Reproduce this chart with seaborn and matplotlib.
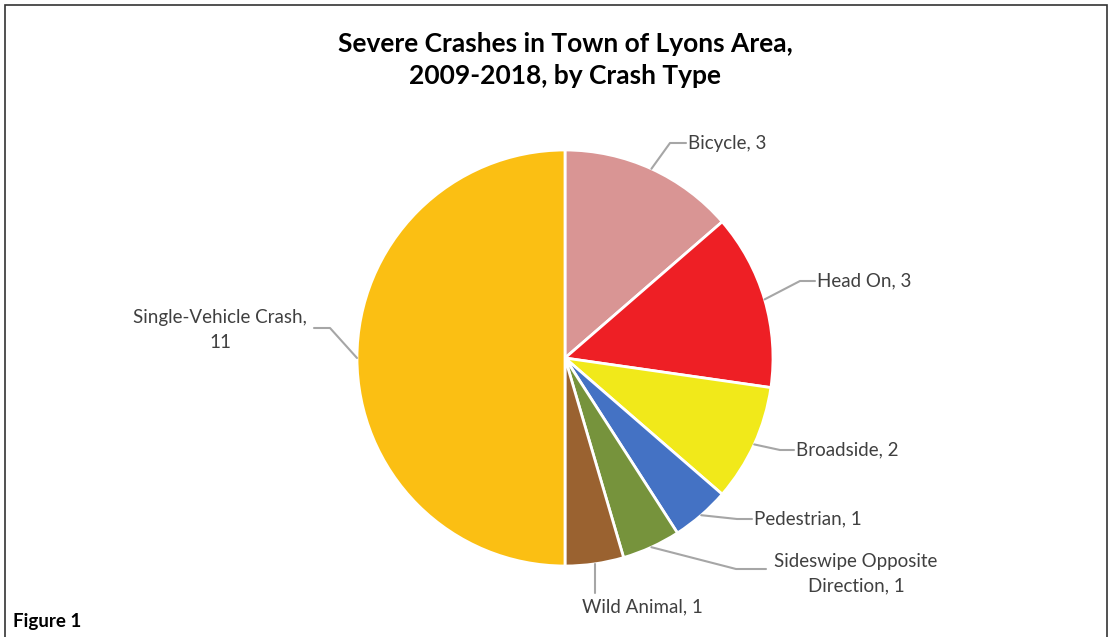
import matplotlib
matplotlib.use("Agg")
import matplotlib.pyplot as plt
import seaborn as sns
import numpy as np

crash_types = ["Bicycle", "Head On", "Broadside", "Pedestrian",
               "Sideswipe Opposite\nDirection", "Wild Animal", "Single-Vehicle Crash,\n"]
crash_counts = [3, 3, 2, 1, 1, 1, 11]
colors = ["#D99594", "#EE1F25", "#F1E91A", "#4472C4", "#76933C", "#9A6230", "#FBBF13"]

sns.set_theme(style="white")
plt.rcParams["font.family"] = ["Lato", "DejaVu Sans"]

W, H = 1110, 637
cx, cy, R = 565, 358, 208  # pie centre / radius in pixels

fig = plt.figure(figsize=(W / 100, H / 100), dpi=100)
ax = fig.add_axes([0, 0, 1, 1])

wedges, _ = ax.pie(crash_counts, colors=colors, startangle=90, counterclock=False,
                   radius=1, center=(0, 0),
                   wedgeprops=dict(edgecolor="white", linewidth=2))
ax.set_xlim(-cx / R, (W - cx) / R)
ax.set_ylim(-(H - cy) / R, cy / R)
ax.set_aspect("equal")
ax.axis("off")

def px(x, y):
    return (x - cx) / R, (cy - y) / R

# elbow point, label anchor (pixels), horizontal alignment
label_layout = [
    ((670, 143), (688, 143), "left"),
    ((800, 281), (817, 281), "left"),
    ((780, 450), (796, 450), "left"),
    ((737, 519), (754, 519), "left"),
    ((736, 569), (856, 574), "center"),
    ((607, 593), (642, 607), "center"),
    ((330, 328), (220, 330), "center"),
]

for w, n, name, (elbow, anchor, ha) in zip(wedges, crash_counts, crash_types, label_layout):
    mid = np.deg2rad((w.theta1 + w.theta2) / 2)
    sx, sy = np.cos(mid) * 1.0, np.sin(mid) * 1.0
    ex, ey = px(*elbow)
    if ha == "left":
        ax.plot([sx, ex, px(anchor[0] - 2, 0)[0]], [sy, ey, ey], color="#A6A6A6", lw=1.5)
    elif name.startswith("Wild"):
        ax.plot([sx, sx], [sy, ey], color="#A6A6A6", lw=1.5)
    elif name.startswith("Sideswipe"):
        ax.plot([sx, ex, px(766, 0)[0]], [sy, ey, ey], color="#A6A6A6", lw=1.5)
    else:
        ax.plot([sx, ex, px(314, 0)[0]], [sy, ey, ey], color="#A6A6A6", lw=1.5)
    if name.endswith("\n"):
        text = f"{name}{n}"
    else:
        text = f"{name}, {n}"
    tx, ty = px(*anchor)
    ax.text(tx, ty, text, ha=ha, va="center", fontsize=13.5, color="#404040",
            linespacing=1.55)

fig.text(565 / W, 1 - 60 / H, "Severe Crashes in Town of Lyons Area,\n2009-2018, by Crash Type",
         ha="center", va="center", fontsize=19, fontweight="bold", color="black",
         linespacing=1.35)
fig.text(13 / W, 1 - 621 / H, "Figure 1", ha="left", va="center", fontsize=13.5,
         fontweight="bold", color="black")

border = plt.Rectangle((5 / W, -0.01), (W - 8) / W, 1 - 5 / H + 0.01, transform=fig.transFigure,
                       fill=False, edgecolor="#333333", lw=1.2)
fig.patches.append(border)

fig.savefig("out.png", dpi=100)
